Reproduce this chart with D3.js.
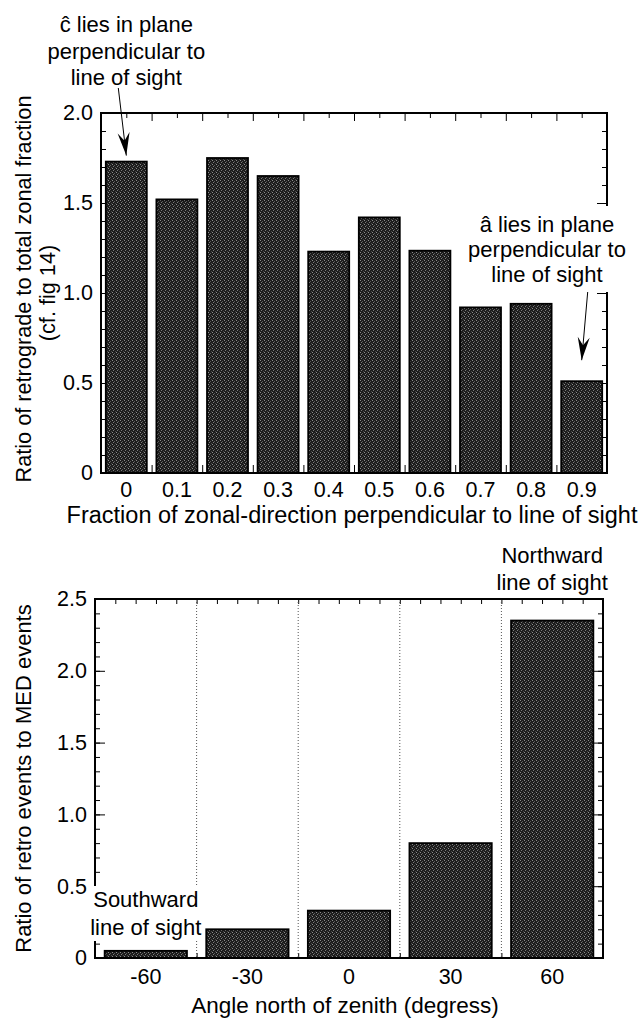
<!DOCTYPE html>
<html>
<head>
<meta charset="utf-8">
<script src="https://cdn.jsdelivr.net/npm/d3@7"></script>
<style>
  html, body { margin: 0; padding: 0; background: #fff; }
  svg text { font-family: "Liberation Sans", Arial, Helvetica, sans-serif; fill: #000; }
</style>
</head>
<body>
<svg id="chart" width="640" height="1019"></svg>
<script>
// ---------------- data ----------------
const topCategories = ["0", "0.1", "0.2", "0.3", "0.4", "0.5", "0.6", "0.7", "0.8", "0.9"];
const topValues = [1.73, 1.52, 1.75, 1.65, 1.23, 1.42, 1.235, 0.92, 0.94, 0.51];
const topYTicks = [0, 0.5, 1.0, 1.5, 2.0];
const topXTitle = "Fraction of zonal-direction perpendicular to line of sight";
const topYTitle1 = "Ratio of retrograde to total zonal fraction";
const topYTitle2 = "(cf. fig 14)";
const noteC = ["\u0109 lies in plane", "perpendicular to", "line of sight"];
const noteA = ["\u00e2 lies in plane", "perpendicular to", "line of sight"];

const botCategories = ["-60", "-30", "0", "30", "60"];
const botValues = [0.05, 0.20, 0.33, 0.80, 2.35];
const botYTicks = [0, 0.5, 1.0, 1.5, 2.0, 2.5];
const botXTitle = "Angle north of zenith (degress)";
const botYTitle = "Ratio of retro events to MED events";
const noteNorth = ["Northward", "line of sight"];
const noteSouth = ["Southward", "line of sight"];

// ---------------- setup ----------------
const svg = d3.select("#chart");
svg.append("rect").attr("width", 640).attr("height", 1019).attr("fill", "#fff");

const defs = svg.append("defs");
const pat = defs.append("pattern").attr("id", "stipple")
  .attr("width", 4).attr("height", 4).attr("patternUnits", "userSpaceOnUse");
pat.append("rect").attr("width", 4).attr("height", 4).attr("fill", "#1c1c1c");
[[0,0,"#8c8c8c"],[2,1,"#5a5a5a"],[1,2,"#7a7a7a"],[3,3,"#4a4a4a"]].forEach(([px,py,c]) =>
  pat.append("rect").attr("x", px).attr("y", py).attr("width", 1).attr("height", 1).attr("fill", c));

const tickFmt = d => d === 0 ? "0" : d3.format(".1f")(d);

function drawPanel(o) {
  const g = svg.append("g");
  const {x, y, xl, L, R, T, B} = o;

  const yMinor = d3.range(0, o.yMax + 1e-9, 0.1).map(v => +v.toFixed(2));
  const yMajor = o.yTicks;
  const tickLayer = g.append("g").attr("stroke", "#000");
  const addAxis = (axis, tx, ty) => {
    const a = tickLayer.append("g").attr("transform", `translate(${tx},${ty})`).call(axis);
    a.select(".domain").remove();
    a.selectAll("line").attr("stroke", "#000").attr("stroke-width", 1);
    return a;
  };
  addAxis(d3.axisLeft(y).tickValues(yMinor).tickSize(-5).tickFormat(""), L, 0);
  addAxis(d3.axisLeft(y).tickValues(yMajor).tickSize(-10).tickFormat(""), L, 0);
  addAxis(d3.axisRight(y).tickValues(yMinor).tickSize(-5).tickFormat(""), R, 0);
  addAxis(d3.axisRight(y).tickValues(yMajor).tickSize(-10).tickFormat(""), R, 0);
  addAxis(d3.axisTop(xl).tickValues(o.xMinor).tickSize(-5).tickFormat(""), 0, T);
  addAxis(d3.axisTop(xl).tickValues(o.xMajor).tickSize(-8).tickFormat(""), 0, T);
  addAxis(d3.axisBottom(xl).tickValues(o.xMinor).tickSize(-5).tickFormat(""), 0, B);
  addAxis(d3.axisBottom(xl).tickValues(o.xMajor).tickSize(-8).tickFormat(""), 0, B);

  if (o.dotted) {
    g.append("g").selectAll("line").data(o.dotted).join("line")
      .attr("x1", d => xl(d)).attr("x2", d => xl(d))
      .attr("y1", T).attr("y2", B)
      .attr("stroke", "#555").attr("stroke-width", 1).attr("stroke-dasharray", "1,2");
  }

  g.append("g").selectAll("rect").data(o.values).join("rect")
    .attr("x", (d, i) => x(o.cats[i]))
    .attr("width", x.bandwidth())
    .attr("y", d => y(d))
    .attr("height", d => y(0) - y(d))
    .attr("fill", "url(#stipple)")
    .attr("stroke", "#000").attr("stroke-width", 1.8);

  g.append("rect").attr("x", L).attr("y", T).attr("width", R - L).attr("height", B - T)
    .attr("fill", "none").attr("stroke", "#000").attr("stroke-width", 2);

  const yl = g.append("g").attr("transform", `translate(${L},0)`)
    .call(d3.axisLeft(y).tickValues(o.yTicks).tickSize(0).tickPadding(8).tickFormat(tickFmt));
  yl.select(".domain").remove();
  yl.selectAll("text").attr("font-size", 21.5).attr("font-family", null);

  const xlab = g.append("g").attr("transform", `translate(0,${B})`)
    .call(d3.axisBottom(x).tickSize(0).tickPadding(o.xPad));
  xlab.select(".domain").remove();
  xlab.selectAll("text").attr("font-size", 21.5).attr("font-family", null);
  return g;
}

function note(lines, cx, y0, dy, bg) {
  const t = svg.append("g");
  if (bg) t.append("rect").attr("x", bg[0]).attr("y", bg[1]).attr("width", bg[2]).attr("height", bg[3]).attr("fill", "#fff");
  lines.forEach((s, i) => t.append("text").attr("x", cx).attr("y", y0 + i * dy)
    .attr("text-anchor", "middle").attr("font-size", 22).text(s));
}
function arrow(x1, y1, x2, y2) {
  svg.append("line").attr("x1", x1).attr("y1", y1).attr("x2", x2).attr("y2", y2)
    .attr("stroke", "#000").attr("stroke-width", 1);
  const ang = Math.atan2(y2 - y1, x2 - x1) * 180 / Math.PI - 90;
  svg.append("path").attr("d", "M0,0 L-6,-23 L0,-15 L6,-23 Z")
    .attr("transform", `translate(${x2},${y2}) rotate(${ang})`).attr("fill", "#000");
}

// ---------------- top panel ----------------
const TL = 101, TR = 607, TT = 113, TB = 473;
const xT = d3.scaleBand().domain(topCategories).range([TL, TR]).paddingInner(0.19).paddingOuter(0.095);
const yT = d3.scaleLinear().domain([0, 2]).range([TB, TT]);
const xTl = d3.scaleLinear().domain([-0.05, 0.95]).range([TL, TR]);
drawPanel({
  x: xT, y: yT, xl: xTl, L: TL, R: TR, T: TT, B: TB, yMax: 2,
  cats: topCategories, values: topValues, yTicks: topYTicks,
  xMinor: d3.range(0, 10).map(i => i * 0.1),
  xMajor: d3.range(0, 11).map(i => -0.05 + i * 0.1),
  xPad: 9
});
svg.append("text").attr("x", 352).attr("y", 523).attr("text-anchor", "middle")
  .attr("font-size", 23.5).text(topXTitle);
svg.append("text").attr("transform", `translate(31,${(TT + TB) / 2 - 4}) rotate(-90)`)
  .attr("text-anchor", "middle").attr("font-size", 21.7).text(topYTitle1);
svg.append("text").attr("transform", `translate(55,${(TT + TB) / 2}) rotate(-90)`)
  .attr("text-anchor", "middle").attr("font-size", 21.7).text(topYTitle2);

const c0 = xT("0") + xT.bandwidth() / 2;
note(noteC, c0, 32, 26.5);
arrow(c0 - 8, 88, c0, yT(topValues[0]) - 6);
const c9 = xT("0.9") + xT.bandwidth() / 2;
note(noteA, 547, 232, 25, [462, 206, 176, 86]);
arrow(c9 + 6, 292, c9, yT(topValues[9]) - 21);

// ---------------- bottom panel ----------------
const BL = 95, BR = 603, BT = 599, BB = 958;
const xB = d3.scaleBand().domain(botCategories).range([BL, BR]).paddingInner(0.19).paddingOuter(0.095);
const yB = d3.scaleLinear().domain([0, 2.5]).range([BB, BT]);
const xBl = d3.scaleLinear().domain([-75, 75]).range([BL, BR]);
drawPanel({
  x: xB, y: yB, xl: xBl, L: BL, R: BR, T: BT, B: BB, yMax: 2.5,
  cats: botCategories, values: botValues, yTicks: botYTicks,
  xMinor: d3.range(0, 26).map(i => -75 + i * 6),
  xMajor: [],
  dotted: [-45, -15, 15, 45],
  xPad: 11
});
svg.append("text").attr("x", 345).attr("y", 1013).attr("text-anchor", "middle")
  .attr("font-size", 22.5).text(botXTitle);
svg.append("text").attr("transform", `translate(31,${(BT + BB) / 2}) rotate(-90)`)
  .attr("text-anchor", "middle").attr("font-size", 22).text(botYTitle);
note(noteNorth, xB("60") + xB.bandwidth() / 2, 563, 27);
note(noteSouth, xB("-60") + xB.bandwidth() / 2, 907, 28, [88, 886, 114, 55]);
</script>
</body>
</html>
